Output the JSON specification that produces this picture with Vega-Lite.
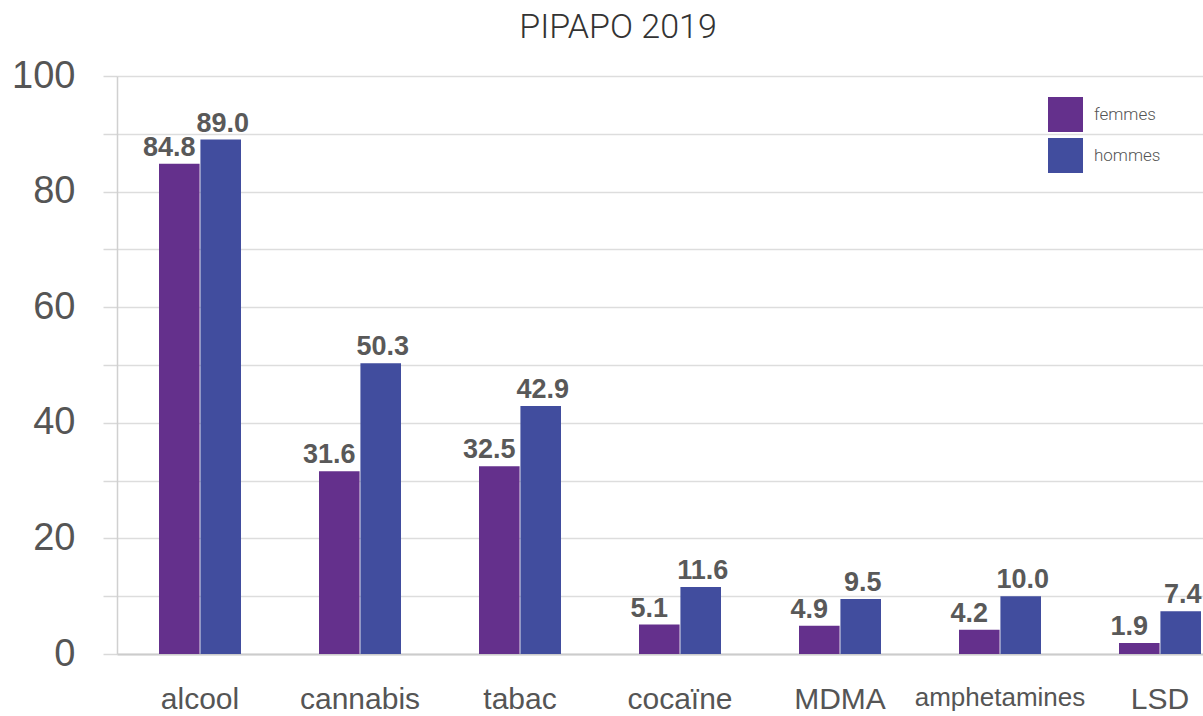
{
  "$schema": "https://vega.github.io/schema/vega-lite/v6.json",
  "width": 1126,
  "height": 578,
  "padding": {"left": 11, "top": 11, "right": 0, "bottom": 0},
  "background": "white",
  "title": {"text": "PIPAPO 2019", "font": "Roboto", "fontWeight": 300, "fontSize": 34, "color": "#333333", "offset": 12, "dx": -62, "anchor": "middle"},
  "data": {"values": [
    {"substance": "alcool", "sexe": "femmes", "value": 84.8},
    {"substance": "alcool", "sexe": "hommes", "value": 89.0},
    {"substance": "cannabis", "sexe": "femmes", "value": 31.6},
    {"substance": "cannabis", "sexe": "hommes", "value": 50.3},
    {"substance": "tabac", "sexe": "femmes", "value": 32.5},
    {"substance": "tabac", "sexe": "hommes", "value": 42.9},
    {"substance": "cocaïne", "sexe": "femmes", "value": 5.1},
    {"substance": "cocaïne", "sexe": "hommes", "value": 11.6},
    {"substance": "MDMA", "sexe": "femmes", "value": 4.9},
    {"substance": "MDMA", "sexe": "hommes", "value": 9.5},
    {"substance": "amphetamines", "sexe": "femmes", "value": 4.2},
    {"substance": "amphetamines", "sexe": "hommes", "value": 10.0},
    {"substance": "LSD", "sexe": "femmes", "value": 1.9},
    {"substance": "LSD", "sexe": "hommes", "value": 7.4}
  ]},
  "encoding": {
    "x": {
      "field": "substance", "type": "nominal",
      "sort": ["alcool", "cannabis", "tabac", "cocaïne", "MDMA", "amphetamines", "LSD"],
      "scale": {"paddingInner": 0.4875, "paddingOuter": 0.2625},
      "axis": {"title": null, "labelAngle": 0, "labelFont": "Liberation Sans", "labelFontSize": {"condition": {"test": "datum.value == 'amphetamines'", "value": 26}, "value": 30}, "labelColor": "#555555", "ticks": false, "domainColor": "#cccccc", "domainWidth": 2, "labelPadding": 30, "grid": false}
    },
    "xOffset": {"field": "sexe", "type": "nominal", "sort": ["femmes", "hommes"], "scale": {"paddingInner": 0.02}},
    "y": {
      "field": "value", "type": "quantitative",
      "scale": {"domain": [0, 100], "nice": false},
      "axis": {"title": null, "values": [0, 10, 20, 30, 40, 50, 60, 70, 80, 90, 100], "labelExpr": "datum.value % 20 == 0 ? datum.label : ''", "labelFont": "Liberation Sans", "labelFontSize": 38, "labelColor": "#555555", "tickSize": 14, "tickColor": "#d9d9d9", "tickWidth": 1.5, "gridColor": "#dddddd", "gridWidth": 1.5, "domainColor": "#d0d0d0", "domainWidth": 1.5, "labelPadding": 28}
    }
  },
  "layer": [
    {
      "mark": {"type": "bar"},
      "encoding": {
        "color": {
          "field": "sexe", "type": "nominal",
          "scale": {"domain": ["femmes", "hommes"], "range": ["#64308c", "#414d9e"]},
          "legend": {"orient": "none", "legendX": 931, "legendY": 21, "title": null, "symbolType": "square", "symbolSize": 1225, "symbolStrokeWidth": 0, "labelFont": "Roboto", "labelFontWeight": 300, "labelFontSize": 17, "labelColor": "#555555", "labelOffset": 11, "rowPadding": 6, "symbolOpacity": 1}
        }
      }
    },
    {
      "transform": [{"filter": "datum.sexe === 'femmes'"}],
      "mark": {"type": "text", "font": "Liberation Sans", "fontWeight": "bold", "fontSize": 27, "color": "#595959", "dy": -8, "dx": -10, "baseline": "alphabetic"},
      "encoding": {"text": {"field": "value", "type": "quantitative", "format": ".1f"}}
    },
    {
      "transform": [{"filter": "datum.sexe === 'hommes'"}],
      "mark": {"type": "text", "font": "Liberation Sans", "fontWeight": "bold", "fontSize": 27, "color": "#595959", "dy": -8, "dx": 2, "baseline": "alphabetic"},
      "encoding": {"text": {"field": "value", "type": "quantitative", "format": ".1f"}}
    }
  ],
  "config": {"view": {"stroke": null}}
}
